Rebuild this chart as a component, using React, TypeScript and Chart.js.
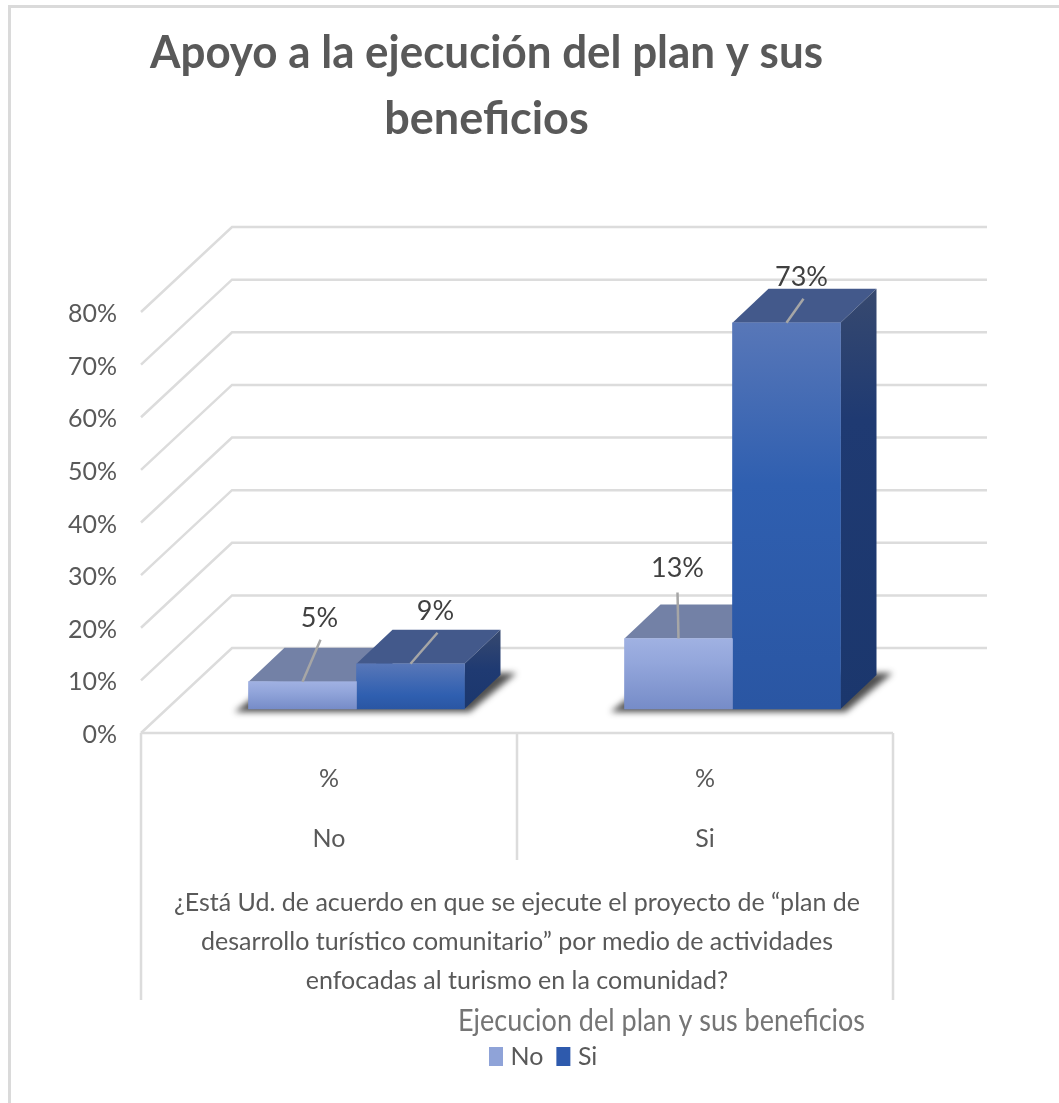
import React, { useEffect, useRef } from "react";
import { Chart, registerables } from "chart.js";

Chart.register(...registerables);

const FONT = 'Lato, "Liberation Sans", sans-serif';

const chartTitle = ["Apoyo a la ejecución del plan y sus", "beneficios"];
const legendTitle = "Ejecucion del plan y sus beneficios";
const axisTitle = [
  "¿Está Ud. de acuerdo en que se ejecute el proyecto de “plan de",
  "desarrollo turístico comunitario” por medio de actividades",
  "enfocadas al turismo en la comunidad?",
];
const categories = [["%", "No"], ["%", "Si"]];
const seriesNames = ["No", "Si"];
const noValues = [0.052, 0.134];
const siValues = [0.086, 0.734];
const yTicks = [0, 0.1, 0.2, 0.3, 0.4, 0.5, 0.6, 0.7, 0.8];

// 3D drawing constants
const WALL = { dx: 91, dy: 85, right: 987 };
const BAR_DEPTH = { dx: 36, dy: 34 };
const BAR_SHIFT_UNITS = 27.5 / 376;
const BAR_BASE_UNITS = 24 / 526.25;
const leaders: number[][][] = [
  [[18, -42, 17, -63], [-1, -46, -1, -70]],
  [[27, -31, 25, -52], [17, -24, 15, -45]],
];

const solid = ["#8fa3d8", "#2e5aad"];
const topColor = ["#7381a6", "#43598b"];

const pct = (v: number) => `${Math.round(v * 100)}%`;

const frontFill = (si: number) => (c: any) => {
  if (c.type !== "data" || !c.parsed) return solid[si];
  const sc = c.chart.scales.yBars;
  const y0 = sc.getPixelForValue(0);
  const y1 = sc.getPixelForValue(c.parsed.y);
  if (!Number.isFinite(y0) || !Number.isFinite(y1)) return solid[si];
  const g = c.chart.ctx.createLinearGradient(0, y1, 0, y0);
  if (si === 0) {
    g.addColorStop(0, "#a0b1e2");
    g.addColorStop(0.35, "#93a6db");
    g.addColorStop(1, "#768cc8");
  } else {
    const h = y0 - y1;
    g.addColorStop(0, "#5877b8");
    g.addColorStop(h > 200 ? 0.42 : 0.7, "#2f5fb0");
    g.addColorStop(1, "#2a56a3");
  }
  return g;
};

const poly = (ctx: CanvasRenderingContext2D, pts: number[][], fill: any) => {
  ctx.beginPath();
  pts.forEach((p, i) => (i ? ctx.lineTo(p[0], p[1]) : ctx.moveTo(p[0], p[1])));
  ctx.closePath();
  ctx.fillStyle = fill;
  ctx.fill();
};

const subtitleBox = (chart: any) =>
  chart.boxes.find((b: any) => b.options && b.options.text === legendTitle);

const scene = {
  id: "scene",
  afterLayout(chart: any) {
    const place = (box: any, left: number, top: number, width: number) => {
      const h = box.height;
      box.left = left;
      box.right = left + width;
      box.width = width;
      box.top = top;
      box.bottom = top + h;
    };
    place(chart.titleBlock, 150, 0, 673);
    place(subtitleBox(chart), 458, 1002, 407);
    place(chart.legend, 476, 1026, 260);
  },
  beforeDatasetsDraw(chart: any) {
    const { ctx, chartArea: a } = chart;
    const y = chart.scales.y;
    const x = chart.scales.x;
    ctx.save();
    ctx.strokeStyle = "#dadada";
    ctx.lineWidth = 3;
    ctx.beginPath();
    ctx.moveTo(9.5, 1103);
    ctx.lineTo(9.5, 6.5);
    ctx.lineTo(1059, 6.5);
    ctx.stroke();

    ctx.strokeStyle = "#dcdcdc";
    ctx.lineWidth = 2.5;
    yTicks.forEach((t) => {
      const p = y.getPixelForValue(t);
      ctx.beginPath();
      ctx.moveTo(a.left, p);
      ctx.lineTo(a.left + WALL.dx, p - WALL.dy);
      ctx.lineTo(WALL.right, p - WALL.dy);
      ctx.stroke();
    });
    // category table under the floor
    ctx.beginPath();
    ctx.moveTo(a.left, a.bottom);
    ctx.lineTo(a.right, a.bottom);
    [a.left, a.right].forEach((px) => {
      ctx.moveTo(px, a.bottom);
      ctx.lineTo(px, 1000);
    });
    const mid = (x.getPixelForValue(0) + x.getPixelForValue(1)) / 2;
    ctx.moveTo(mid, a.bottom);
    ctx.lineTo(mid, 860);
    ctx.stroke();

    const m0 = chart.getDatasetMeta(0).data;
    const m1 = chart.getDatasetMeta(1).data;
    // floor shadows
    m0.forEach((el: any, i: number) => {
      const l = el.x - el.width / 2;
      const r = m1[i].x + m1[i].width / 2;
      const b = el.base;
      ctx.save();
      ctx.filter = "blur(3px)";
      poly(ctx, [[l - 14, b + 3], [r + 5, b + 3], [r + 52, b - 36], [l + 36, b - 36]], "rgba(20,20,20,0.75)");
      ctx.restore();
    });
    // tops and sides
    [m0, m1].forEach((meta: any[], s: number) => {
      meta.forEach((el: any) => {
        const l = el.x - el.width / 2;
        const r = el.x + el.width / 2;
        const t = el.y;
        const b = el.base;
        const { dx, dy } = BAR_DEPTH;
        poly(ctx, [[l, t], [r, t], [r + dx, t - dy], [l + dx, t - dy]], topColor[s]);
        const g = ctx.createLinearGradient(0, t - dy, 0, b);
        g.addColorStop(0, "#37496f");
        g.addColorStop(Math.min(0.5, 120 / Math.max(b - t, 1)), "#1f3a72");
        g.addColorStop(1, "#1b376d");
        poly(ctx, [[r, t], [r + dx, t - dy], [r + dx, b - dy], [r, b]], g);
      });
    });
    ctx.restore();
  },
  afterDatasetsDraw(chart: any) {
    const { ctx } = chart;
    ctx.save();
    [0, 1].forEach((s) => {
      const values = s === 0 ? noValues : siValues;
      chart.getDatasetMeta(s).data.forEach((el: any, i: number) => {
        const [lx, ly, tx, ty] = leaders[s][i];
        ctx.strokeStyle = "#a6a6a6";
        ctx.lineWidth = 2.5;
        ctx.beginPath();
        ctx.moveTo(el.x, el.y);
        ctx.lineTo(el.x + lx, el.y + ly);
        ctx.stroke();
        ctx.fillStyle = "#404040";
        ctx.font = `27px ${FONT}`;
        ctx.textAlign = "center";
        ctx.textBaseline = "middle";
        ctx.fillText(pct(values[i]), el.x + tx, el.y + ty);
      });
    });
    ctx.restore();
  },
};

export default function App() {
  const ref = useRef<HTMLCanvasElement>(null);
  useEffect(() => {
    document.body.style.margin = "0";
    const chart = new Chart(ref.current!, {
      type: "bar",
      data: {
        labels: categories as any,
        datasets: [
          {
            label: seriesNames[0],
            data: noValues.map((v, i) => ({ x: i, y: v })),
            backgroundColor: frontFill(0),
            xAxisID: "xBars",
            yAxisID: "yBars",
            barThickness: 108,
          },
          {
            label: seriesNames[1],
            data: siValues.map((v, i) => ({ x: i, y: v })),
            backgroundColor: frontFill(1),
            xAxisID: "xBars",
            yAxisID: "yBars",
            barThickness: 108,
          },
        ] as any,
      },
      plugins: [scene],
      options: {
        animation: false,
        responsive: false,
        layout: { padding: { left: 0, right: 166, top: 0, bottom: 0 } },
        scales: {
          x: {
            type: "category",
            offset: true,
            grid: { display: false },
            border: { display: false },
            ticks: {
              padding: 7.5,
              maxRotation: 0,
              autoSkip: false,
              color: "#595959",
              font: { family: FONT, size: 25, lineHeight: 60 / 25 },
            },
            title: {
              display: true,
              text: axisTitle,
              color: "#595959",
              font: { family: FONT, size: 25, lineHeight: 39 / 25 },
              padding: { top: 16, bottom: 12 },
            },
            afterFit(s: any) {
              const c = s.chart;
              s.height = 370 - (c.legend?.height ?? 0) - (subtitleBox(c)?.height ?? 0);
            },
          },
          xBars: {
            type: "linear",
            display: false,
            offset: false,
            min: -0.5 - BAR_SHIFT_UNITS,
            max: 1.5 - BAR_SHIFT_UNITS,
            grid: { display: false },
          },
          y: {
            type: "linear",
            min: 0,
            max: 0.8,
            grid: { display: false },
            border: { display: false },
            ticks: {
              stepSize: 0.1,
              padding: 16,
              labelOffset: 2,
              color: "#595959",
              font: { family: FONT, size: 25 },
              callback: (v: any) => pct(Number(v)),
            },
            afterFit(s: any) {
              s.width = 141;
            },
          },
          yBars: {
            type: "linear",
            display: false,
            min: -BAR_BASE_UNITS,
            max: 0.8 - BAR_BASE_UNITS,
            grid: { display: false },
          },
        } as any,
        plugins: {
          title: {
            display: true,
            text: chartTitle,
            color: "#595959",
            font: { family: FONT, size: 45, weight: "bold", lineHeight: 66 / 45 },
            padding: { top: 20, bottom: 160 },
          },
          subtitle: {
            display: true,
            position: "bottom",
            text: legendTitle,
            color: "#757575",
            font: { family: FONT, size: 31, weight: "normal" },
            padding: 0,
          },
          legend: {
            position: "bottom",
            align: "start",
            labels: {
              boxWidth: 4,
              boxHeight: 9,
              padding: 18,
              color: "#595959",
              font: { family: FONT, size: 25 },
              generateLabels: () =>
                seriesNames.map((name, i) => ({
                  text: name,
                  fillStyle: solid[i],
                  strokeStyle: solid[i],
                  fontColor: "#595959",
                  lineWidth: 10,
                  datasetIndex: i,
                })),
            },
          },
          tooltip: { enabled: false },
        } as any,
      },
    });
    return () => chart.destroy();
  }, []);
  return <canvas ref={ref} width={1059} height={1103} style={{ display: "block", filter: "blur(0.5px)" }} />;
}
